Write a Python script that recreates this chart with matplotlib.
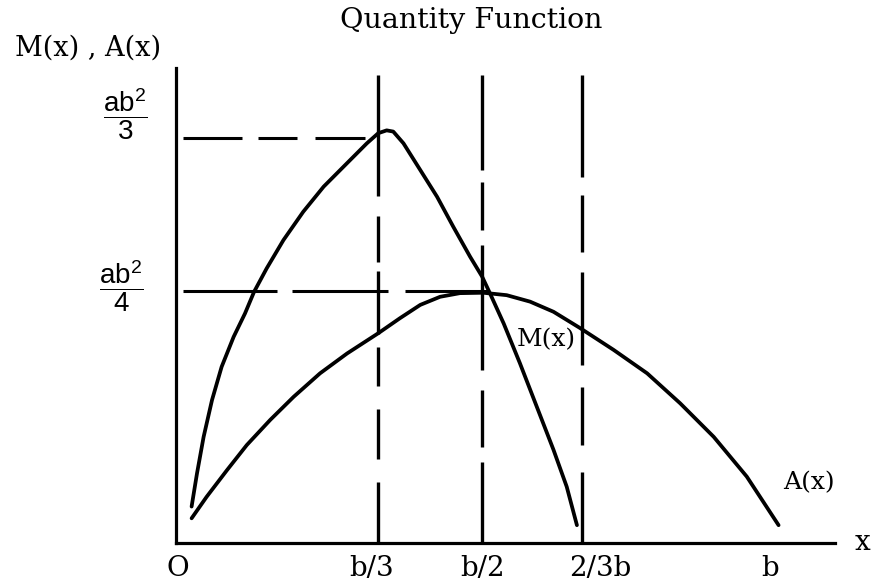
import matplotlib
matplotlib.use("Agg")
import matplotlib.pyplot as plt

plt.rcParams["lines.scale_dashes"] = False
plt.rcParams["mathtext.fontset"] = "custom"
plt.rcParams["mathtext.rm"] = "Liberation Sans"
plt.rcParams["mathtext.it"] = "Liberation Sans"

# x is measured in units of b, y in units of ab^2/3
m_x = [0.026, 0.035, 0.046, 0.060, 0.076, 0.096, 0.115, 0.130, 0.151, 0.179,
       0.212, 0.246, 0.285, 0.318, 0.337, 0.351, 0.362, 0.379, 0.407, 0.435,
       0.462, 0.490, 0.510, 0.523, 0.546, 0.573, 0.601, 0.629, 0.651, 0.668]
m_y = [0.090, 0.172, 0.262, 0.353, 0.435, 0.509, 0.567, 0.620, 0.678, 0.748,
       0.818, 0.880, 0.938, 0.987, 1.012, 1.019, 1.016, 0.987, 0.921, 0.855,
       0.781, 0.707, 0.658, 0.617, 0.542, 0.444, 0.337, 0.230, 0.139, 0.044]

a_x = [0.026, 0.051, 0.085, 0.118, 0.157, 0.196, 0.240, 0.285, 0.337, 0.373,
       0.407, 0.440, 0.473, 0.512, 0.551, 0.590, 0.629, 0.673, 0.729, 0.785,
       0.840, 0.896, 0.951, 1.004]
a_y = [0.061, 0.114, 0.180, 0.242, 0.304, 0.361, 0.419, 0.468, 0.518, 0.555,
       0.588, 0.608, 0.617, 0.618, 0.612, 0.596, 0.571, 0.531, 0.477, 0.419,
       0.345, 0.262, 0.164, 0.044]

# horizontal guides: value, where they stop, label
levels = [1.0, 0.622]
level_ends = [0.315, 0.520]
level_labels = [r"$\dfrac{\mathrm{ab}^2}{3}$", r"$\dfrac{\mathrm{ab}^2}{4}$"]

# vertical guides and axis labels
vline_x = [0.337, 0.510, 0.677]
tick_x = [0.0, 0.337, 0.510, 0.677, 0.995]
tick_labels = ["O", "b/3", "b/2", "2/3b", "b"]

PX = 0.72  # one pixel in points at dpi 100

# hand drawn dash runs (pixels), top to bottom / left to right
vline_dashes = [
    [121, 20, 46, 9, 63, 13, 39, 23, 50, 23, 60, 40],
    [95, 12, 48, 15, 125, 20, 57, 15, 81, 40],
    [102, 18, 57, 20, 93, 22, 58, 27, 73, 40],
]
level_dashes = [
    [59, 16, 39, 18, 52, 40],
    [94, 15, 96, 17, 83, 40],
]
label_shift = [2, -7, 0, 18, -3]
level_label_pos = [(-51, 24), (-55, 5)]

SERIF = "DejaVu Serif"

fig = plt.figure(figsize=(8.72, 5.82), dpi=100)
ax = fig.add_axes([176 / 872, 39 / 582, 659 / 872, 475 / 582])
ax.set_xlim(0, 1.098)
ax.set_ylim(0, 1.173)
for side in ["top", "right"]:
    ax.spines[side].set_visible(False)
for side in ["left", "bottom"]:
    ax.spines[side].set_linewidth(2.3)
ax.set_xticks([])
ax.set_yticks([])

lw = 2.7
ax.plot(m_x, m_y, color="black", lw=lw, solid_capstyle="round",
        solid_joinstyle="round")
ax.plot(a_x, a_y, color="black", lw=lw, solid_capstyle="round",
        solid_joinstyle="round")

for x, d in zip(vline_x, vline_dashes):
    ax.plot([x, x], [1.155, 0], color="black", lw=2.4,
            dashes=[v * PX for v in d], dash_capstyle="butt")

for y, xe, d, lab, off in zip(levels, level_ends, level_dashes,
                              level_labels, level_label_pos):
    ax.plot([0.012, xe], [y, y], color="black", lw=2.2,
            dashes=[v * PX for v in d], dash_capstyle="butt")
    ax.annotate(lab, xy=(0, y), xytext=(off[0] * PX, off[1] * PX),
                textcoords="offset points", ha="center", va="center",
                fontsize=20, annotation_clip=False)

for x, lab, dx in zip(tick_x, tick_labels, label_shift):
    ax.annotate(lab, xy=(x, 0), xytext=(dx * PX, -26 * PX),
                textcoords="offset points", ha="center", va="center",
                fontsize=20, family=SERIF, annotation_clip=False)

ax.annotate("x", xy=(1.098, 0), xytext=(27 * PX, 0),
            textcoords="offset points", ha="center", va="center",
            fontsize=20, family=SERIF, annotation_clip=False)

ax.text(0.568, 0.501, "M(x)", ha="left", va="center", fontsize=18,
        family=SERIF)
ax.text(1.012, 0.148, "A(x)", ha="left", va="center", fontsize=18,
        family=SERIF)

fig.text(88 / 872, 1 - 48 / 582, "M(x) , A(x)", ha="center", va="center",
         fontsize=19.5, family=SERIF)
fig.text(471 / 872, 1 - 20 / 582, "Quantity Function", ha="center",
         va="center", fontsize=20.5, family=SERIF)

fig.savefig("out.png", dpi=100)
